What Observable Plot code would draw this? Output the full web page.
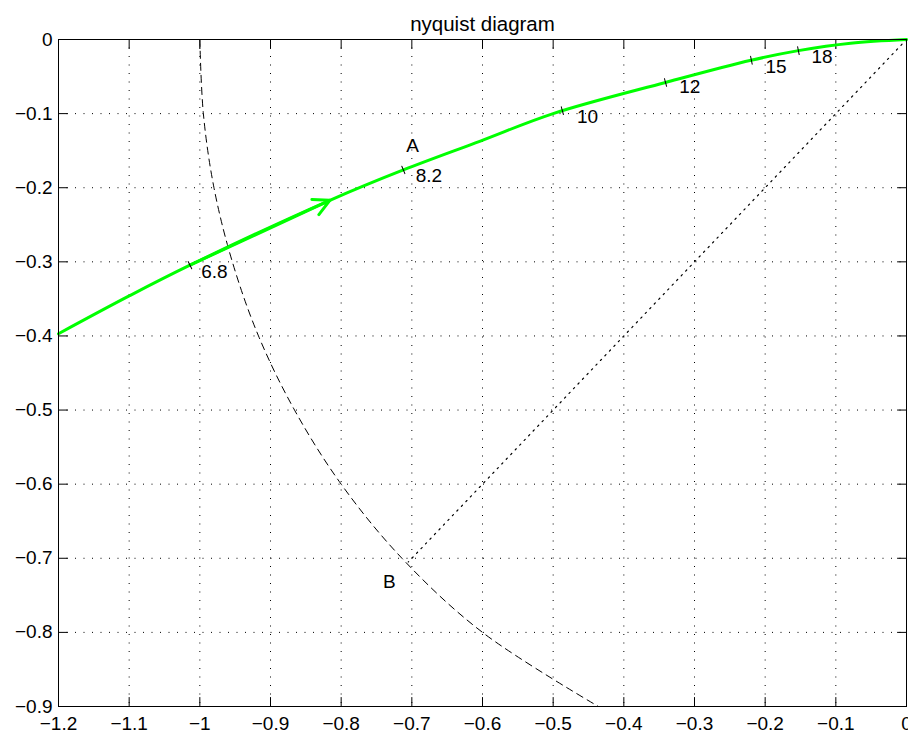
<!DOCTYPE html>
<html><head><meta charset="utf-8">
<script src="https://cdn.jsdelivr.net/npm/d3@7"></script>
<script src="https://cdn.jsdelivr.net/npm/@observablehq/plot@0.6"></script>
<style>body{margin:0;background:#fff} #chart{width:908px;height:735px}</style>
</head><body><div id="chart"></div>
<script>
const title = "nyquist diagram";
const xTicks = [-1.2,-1.1,-1,-0.9,-0.8,-0.7,-0.6,-0.5,-0.4,-0.3,-0.2,-0.1,0];
const xTickLabels = ["−1.2","−1.1","−1","−0.9","−0.8","−0.7","−0.6","−0.5","−0.4","−0.3","−0.2","−0.1","0"];
const yTicks = [0,-0.1,-0.2,-0.3,-0.4,-0.5,-0.6,-0.7,-0.8,-0.9];
const yTickLabels = ["0","−0.1","−0.2","−0.3","−0.4","−0.5","−0.6","−0.7","−0.8","−0.9"];

// Nyquist curve
const nyqRe = [-1.2,-1.1,-1.014,-0.816,-0.712,-0.603,-0.5,-0.341,-0.22,-0.153,-0.079,0];
const nyqIm = [-0.397,-0.346,-0.3045,-0.217,-0.176,-0.137,-0.1,-0.058,-0.028,-0.015,-0.005,0];
const arrowIndex = 3;

// dashed arc
const arcRe = [-1,-0.995,-0.98,-0.954,-0.917,-0.866,-0.8,-0.714,-0.6,-0.436];
const arcIm = [0,-0.1,-0.2,-0.3,-0.4,-0.5,-0.6,-0.7,-0.8,-0.9];

// dotted ray from origin to B
const rayRe = [0,-0.705];
const rayIm = [0,-0.705];

// frequency marks
const freqLabels = ["6.8","8.2","10","12","15","18"];
const freqTickRe = [-1.014,-0.712,-0.487,-0.341,-0.2195,-0.153];
const freqTickIm = [-0.3045,-0.176,-0.096,-0.058,-0.028,-0.015];
const freqLabelRe = [-0.998,-0.6945,-0.4664,-0.3215,-0.1997,-0.1346];
const freqLabelIm = [-0.313,-0.1836,-0.1046,-0.0641,-0.0371,-0.0236];

// point names
const pointNames = ["A","B"];
const pointRe = [-0.699,-0.732];
const pointIm = [-0.143,-0.7318];

const W = 908, H = 735, mL = 58, mR = 2, mT = 39, mB = 29;
const kx = (W - mL - mR) / 1.2, ky = (H - mT - mB) / 0.9;
function slopeAt(x) {
  let i = 0;
  while (i < nyqRe.length - 2 && nyqRe[i + 1] < x) i++;
  return (nyqIm[i + 1] - nyqIm[i]) / (nyqRe[i + 1] - nyqRe[i]);
}
const lineShape = {draw(context, l) { context.moveTo(0, 0); context.lineTo(0, -l); }};
const idx = a => a.map((_, i) => i);
const fmt = (ticks, labels) => d => labels[ticks.findIndex(t => Math.abs(t - d) < 1e-9)];

const chart = Plot.plot({
  width: W, height: H,
  marginLeft: mL, marginRight: mR, marginTop: mT, marginBottom: mB,
  style: {fontFamily: "'Liberation Sans', Arial, sans-serif", fontSize: "19px", background: "#fff", color: "#000", overflow: "visible"},
  x: {domain: [-1.2, 0]},
  y: {domain: [-0.9, 0]},
  marks: [
    Plot.gridX(xTicks, {stroke: "#000", strokeOpacity: 1, strokeDasharray: "1,7.5"}),
    Plot.gridY(yTicks, {stroke: "#000", strokeOpacity: 1, strokeDasharray: "1,7.5"}),
    Plot.axisX(xTicks, {tickSize: 0, tickPadding: 10, tickFormat: fmt(xTicks, xTickLabels), label: null, fontSize: 19}),
    Plot.axisY(yTicks, {tickSize: 0, tickPadding: 6, tickFormat: fmt(yTicks, yTickLabels), label: null, fontSize: 19}),
    Plot.vector(xTicks, {x: d => d, frameAnchor: "bottom", anchor: "start", rotate: 0, length: 9, shape: lineShape, stroke: "#000", strokeWidth: 1}),
    Plot.vector(xTicks, {x: d => d, frameAnchor: "top", anchor: "start", rotate: 180, length: 9, shape: lineShape, stroke: "#000", strokeWidth: 1}),
    Plot.vector(yTicks, {y: d => d, frameAnchor: "left", anchor: "start", rotate: 90, length: 9, shape: lineShape, stroke: "#000", strokeWidth: 1}),
    Plot.vector(yTicks, {y: d => d, frameAnchor: "right", anchor: "start", rotate: -90, length: 9, shape: lineShape, stroke: "#000", strokeWidth: 1}),
    Plot.line(idx(arcRe), {x: i => arcRe[i], y: i => arcIm[i], curve: "catmull-rom", stroke: "#000", strokeWidth: 1, strokeDasharray: "7,5", clip: true}),
    Plot.line(idx(rayRe), {x: i => rayRe[i], y: i => rayIm[i], stroke: "#000", strokeWidth: 1.2, strokeDasharray: "1.5,5"}),
    Plot.line(idx(nyqRe), {x: i => nyqRe[i], y: i => nyqIm[i], curve: "catmull-rom", stroke: "#00ff00", strokeWidth: 3}),
    Plot.arrow([arrowIndex], {x1: i => nyqRe[i - 1], y1: i => nyqIm[i - 1], x2: i => nyqRe[i], y2: i => nyqIm[i], stroke: "#00ff00", strokeWidth: 3, headLength: 9, headAngle: 55}),
    Plot.vector(idx(freqTickRe), {x: i => freqTickRe[i], y: i => freqTickIm[i], anchor: "middle", length: 8, shape: lineShape,
      rotate: i => -Math.atan(slopeAt(freqTickRe[i]) * ky / kx) * 180 / Math.PI, stroke: "#000", strokeWidth: 1}),
    Plot.text(idx(freqLabels), {x: i => freqLabelRe[i], y: i => freqLabelIm[i], text: i => freqLabels[i], textAnchor: "start", fontSize: 19, fill: "#000"}),
    Plot.text(idx(pointNames), {x: i => pointRe[i], y: i => pointIm[i], text: i => pointNames[i], textAnchor: "middle", fontSize: 19, fill: "#000"}),
    Plot.frame({stroke: "#000", strokeWidth: 1}),
    Plot.text([title], {frameAnchor: "top", dy: -23, text: d => d, fontSize: 20.5, fill: "#000"})
  ]
});
document.getElementById("chart").appendChild(chart);
</script>
</body></html>
